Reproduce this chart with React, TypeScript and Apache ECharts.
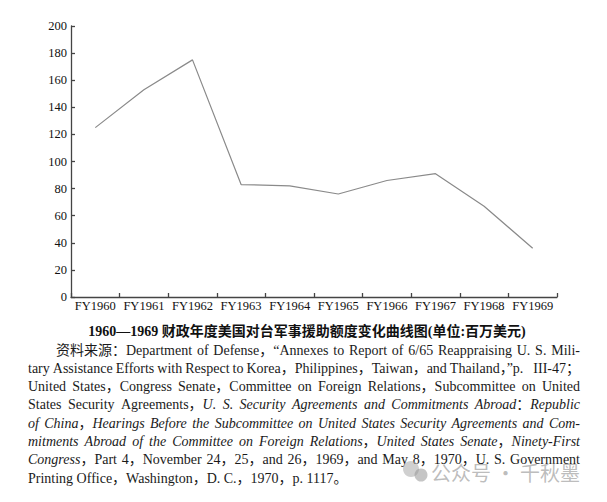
import React, { useEffect, useRef } from "react";
import * as echarts from "echarts";

// ---- data ----
const categories = ["FY1960", "FY1961", "FY1962", "FY1963", "FY1964", "FY1965", "FY1966", "FY1967", "FY1968", "FY1969"];
const aidValues = [125, 153, 175, 83, 82, 76, 86, 91, 67, 36];
const yMin = 0;
const yMax = 200;
const yInterval = 20;

const captionText = "1960—1969 财政年度美国对台军事援助额度变化曲线图(单位:百万美元)";
// "_" toggles italic
const sourceLines = [
  "资料来源：Department of Defense，“Annexes to Report of 6/65 Reappraising U. S. Mili-",
  "tary Assistance Efforts with Respect to Korea，Philippines，Taiwan，and Thailand，”p. III-47；",
  "United States，Congress Senate，Committee on Foreign Relations，Subcommittee on United",
  "States Security Agreements，_U. S. Security Agreements and Commitments Abroad_：_Republic",
  "of China_，_Hearings Before the Subcommittee on United States Security Agreements and Com-",
  "mitments Abroad of the Committee on Foreign Relations_，_United States Senate_，_Ninety-First",
  "Congress_，Part 4，November 24，25，and 26，1969，and May 8，1970，U. S. Government",
  "Printing Office，Washington，D. C.，1970，p. 1117。",
];
const watermarkText = "公众号 · 千秋墨";

const FAM = "Liberation Serif, Noto Sans CJK SC, serif";

function buildParagraph(): any[] {
  const canvas = document.createElement("canvas");
  const ctx = canvas.getContext("2d") as CanvasRenderingContext2D;
  const FS = 14;
  const fontOf = (it: boolean) => `${it ? "italic" : "normal"} normal ${FS}px ${FAM}`;
  const left = 28;
  const right = 580;
  const top = 350;
  const lh = 18.3;
  const els: any[] = [];
  let italic = false;
  ctx.font = fontOf(false);
  const spaceW = ctx.measureText(" ").width;
  sourceLines.forEach((line, li) => {
    const words = line.split(" ").filter((w) => w.length > 0);
    const wordRuns = words.map((w) => {
      const runs: { t: string; it: boolean; w: number }[] = [];
      let buf = "";
      const flush = () => {
        if (buf) {
          ctx.font = fontOf(italic);
          runs.push({ t: buf, it: italic, w: ctx.measureText(buf).width });
        }
        buf = "";
      };
      for (const ch of w) {
        if (ch === "_") {
          flush();
          italic = !italic;
        } else buf += ch;
      }
      flush();
      return runs;
    });
    const widths = wordRuns.map((r) => r.reduce((s, x) => s + x.w, 0));
    const total = widths.reduce((s, x) => s + x, 0);
    const x0 = li === 0 ? left + 28 : left;
    const isLast = li === sourceLines.length - 1;
    const gaps = words.length - 1;
    let gap = spaceW;
    if (!isLast && gaps > 0) gap = Math.max(1.5, (right - x0 - total) / gaps);
    let x = x0;
    const y = top + li * lh;
    wordRuns.forEach((runs, wi) => {
      runs.forEach((r) => {
        els.push({
          type: "text",
          x,
          y,
          silent: true,
          style: {
            text: r.t,
            font: fontOf(r.it),
            fill: "#1a1a1a",
            textAlign: "left",
            textVerticalAlign: "middle",
          },
        });
        x += r.w;
      });
      x += gap;
    });
  });
  return els;
}

export default function App() {
  const ref = useRef<HTMLDivElement>(null);
  useEffect(() => {
    if (!ref.current) return;
    const chart = echarts.init(ref.current, undefined, { renderer: "svg" });
    const axisColor = "#444";
    const graphics: any[] = [
      {
        type: "text",
        x: 307,
        y: 331,
        silent: true,
        style: {
          text: captionText,
          font: `normal bold 14px ${FAM}`,
          fill: "#111",
          textAlign: "center",
          textVerticalAlign: "middle",
        },
      },
      ...buildParagraph(),
      {
        type: "circle",
        shape: { cx: 411, cy: 469, r: 8 },
        silent: true,
        style: { fill: "rgba(170,170,170,0.55)" },
      },
      {
        type: "circle",
        shape: { cx: 421, cy: 475, r: 6.5 },
        silent: true,
        style: { fill: "rgba(150,150,150,0.55)" },
      },
      {
        type: "text",
        x: 431,
        y: 472,
        silent: true,
        style: {
          text: watermarkText,
          font: `normal normal 20px Noto Sans CJK SC, sans-serif`,
          fill: "rgba(160,160,160,0.7)",
          textAlign: "left",
          textVerticalAlign: "middle",
        },
      },
    ];
    chart.setOption({
      animation: false,
      backgroundColor: "#ffffff",
      grid: { left: 71, top: 26, width: 486, height: 271, containLabel: false },
      xAxis: {
        type: "category",
        data: categories,
        boundaryGap: true,
        axisLine: { show: true, lineStyle: { color: axisColor, width: 1.3 } },
        axisTick: { show: true, inside: true, length: 4, lineStyle: { color: axisColor, width: 1.3 } },
        axisLabel: { color: "#111", fontSize: 12.5, fontFamily: FAM, margin: 3, interval: 0 },
        splitLine: { show: false },
      },
      yAxis: {
        type: "value",
        min: yMin,
        max: yMax,
        interval: yInterval,
        axisLine: { show: true, lineStyle: { color: axisColor, width: 1.3 } },
        axisTick: { show: true, inside: true, length: 4, lineStyle: { color: axisColor, width: 1.3 } },
        axisLabel: { color: "#111", fontSize: 12.5, fontFamily: FAM, margin: 4 },
        splitLine: { show: false },
      },
      series: [
        {
          type: "line",
          data: aidValues,
          symbol: "none",
          lineStyle: { color: "#8a8a8a", width: 1.2 },
        },
      ],
      graphic: graphics,
    });
    return () => chart.dispose();
  }, []);
  return (
    <div
      ref={ref}
      style={{ position: "fixed", left: 0, top: 0, width: 607, height: 502, background: "#fff" }}
    />
  );
}
